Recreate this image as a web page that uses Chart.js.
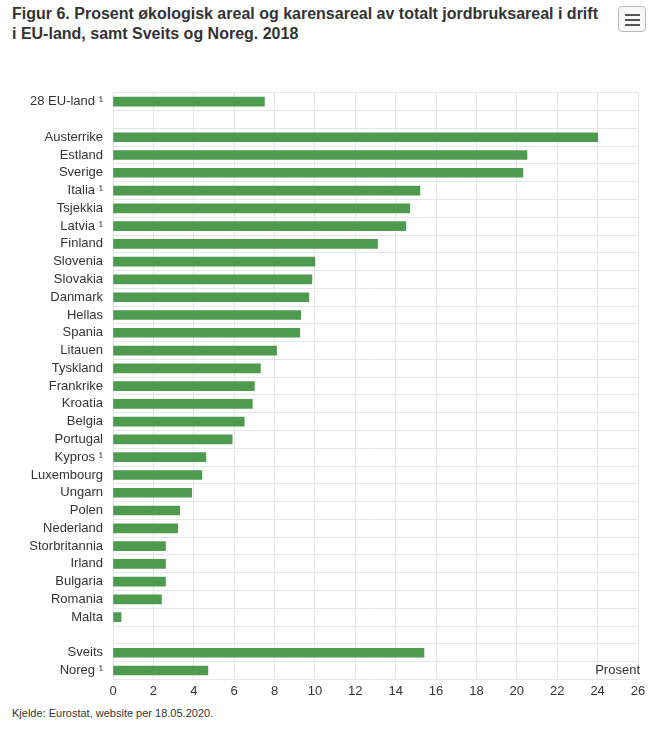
<!DOCTYPE html>
<html>
<head>
<meta charset="utf-8">
<script src="https://cdn.jsdelivr.net/npm/chart.js@4"></script>
<style>
  body { margin: 0; background: #fff; font-family: "Liberation Sans", Arial, sans-serif; }
  #title { position: absolute; left: 12px; top: 4px; width: 590px; font-size: 16px; font-weight: bold; color: #333; line-height: 20px; }
  #menu { position: absolute; left: 618px; top: 6px; width: 28px; height: 26px; border: 1px solid #bbb; border-radius: 4px; box-sizing: border-box; background: #f7f7f7; }
  #menu span { position: absolute; left: 6px; width: 15px; height: 2px; background: #555; }
  #wrap { position: absolute; left: 0; top: 75px; width: 654px; height: 628px; }
  #source { position: absolute; left: 12px; top: 707px; font-size: 11px; color: #333; }
</style>
</head>
<body>
<div id="title">Figur 6. Prosent økologisk areal og karensareal av totalt jordbruksareal i drift i EU-land, samt Sveits og Noreg. 2018</div>
<div id="menu"><span style="top:7px"></span><span style="top:12px"></span><span style="top:17px"></span></div>
<div id="wrap"><canvas id="chart"></canvas></div>
<div id="source">Kjelde: Eurostat, website per 18.05.2020.</div>
<script>
const categories = ['28 EU-land ¹', '', 'Austerrike', 'Estland', 'Sverige', 'Italia ¹', 'Tsjekkia', 'Latvia ¹',
  'Finland', 'Slovenia', 'Slovakia', 'Danmark', 'Hellas', 'Spania', 'Litauen', 'Tyskland', 'Frankrike',
  'Kroatia', 'Belgia', 'Portugal', 'Kypros ¹', 'Luxembourg', 'Ungarn', 'Polen', 'Nederland',
  'Storbritannia', 'Irland', 'Bulgaria', 'Romania', 'Malta', '', 'Sveits', 'Noreg ¹'];
const values = [7.5, null, 24.0, 20.5, 20.3, 15.2, 14.7, 14.5, 13.1, 10.0, 9.85, 9.7, 9.3, 9.25, 8.1,
  7.3, 7.0, 6.9, 6.5, 5.9, 4.6, 4.4, 3.9, 3.3, 3.2, 2.6, 2.6, 2.6, 2.4, 0.4, null, 15.4, 4.7];
const xTicks = [0, 2, 4, 6, 8, 10, 12, 14, 16, 18, 20, 22, 24, 26];

const axisTitle = {
  id: 'axisTitle',
  afterDraw(chart) {
    const c = chart.ctx, x = chart.scales.x;
    c.save();
    c.font = '13px "Liberation Sans", Arial, sans-serif';
    c.fillStyle = '#333';
    c.textAlign = 'right';
    c.textBaseline = 'bottom';
    c.fillText('Prosent', x.right + 2, x.top - 2);
    c.restore();
  }
};

new Chart(document.getElementById('chart'), {
  type: 'bar',
  data: { labels: categories, datasets: [{ data: values, backgroundColor: '#4e9a4e', barThickness: 9 }] },
  options: {
    indexAxis: 'y',
    responsive: true,
    maintainAspectRatio: false,
    animation: false,
    layout: { padding: { top: 7, right: 16, left: 4, bottom: 0 } },
    plugins: { legend: { display: false }, tooltip: { enabled: false } },
    scales: {
      x: {
        min: 0, max: 26,
        afterBuildTicks: s => { s.ticks = xTicks.map(v => ({ value: v })); },
        ticks: { color: '#333', font: { size: 13 }, padding: 4 },
        grid: { color: '#e6e6e6', drawTicks: false },
        border: { display: false }
      },
      y: {
        afterFit: s => { s.width = 109; },
        ticks: { color: '#333', font: { size: 13 }, autoSkip: false, padding: 10 },
        grid: { offset: true, color: '#e6e6e6', drawTicks: false },
        border: { display: false }
      }
    }
  },
  plugins: [axisTitle]
});
</script>
</body>
</html>
